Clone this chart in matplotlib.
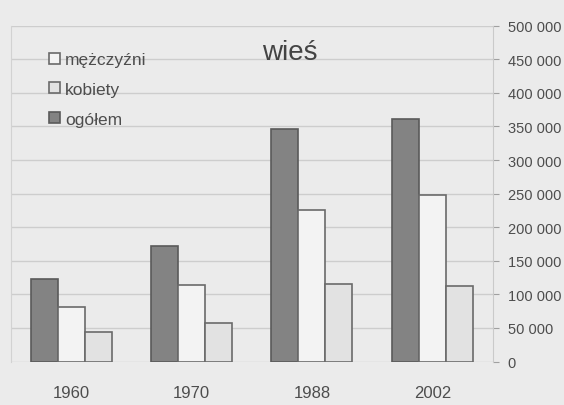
import matplotlib
matplotlib.use("Agg")
import matplotlib.pyplot as plt
import numpy as np
from matplotlib.ticker import FuncFormatter

plt.rcParams['font.family'] = ['Liberation Sans', 'DejaVu Sans']

years = ["1960", "1970", "1988", "2002"]
ogolem = [123000, 171500, 346000, 361000]
mezczyzni = [81000, 114000, 226000, 248000]
kobiety = [44000, 58000, 115000, 112000]
yticks = [0, 50000, 100000, 150000, 200000, 250000, 300000, 350000, 400000, 450000, 500000]
title = "wieś"

bg = "#ebebeb"
txt = "#4d4d4d"

fig = plt.figure(figsize=(5.64, 4.06), dpi=100, facecolor=bg)
ax = fig.add_axes([11/564, 1-362.5/406, (492.5-11)/564, (362.5-26.7)/406])
ax.set_facecolor(bg)

x = np.arange(len(years))
w = 0.224
b_tot = ax.bar(x - w, ogolem, w, color="#838383", edgecolor="#5a5a5a", linewidth=1.2, zorder=3)
b_men = ax.bar(x, mezczyzni, w, color="#f3f3f3", edgecolor="#6a6a6a", linewidth=1.2, zorder=3)
b_wom = ax.bar(x + w, kobiety, w, color="#e2e2e2", edgecolor="#6a6a6a", linewidth=1.2, zorder=3)

ax.set_xlim(-0.5, len(years) - 0.5)
ax.set_ylim(0, 500000)
ax.set_yticks(yticks)
ax.yaxis.tick_right()
ax.yaxis.set_major_formatter(FuncFormatter(lambda v, p: f"{int(v):,}".replace(",", " ")))
ax.tick_params(axis='y', length=4, direction='out', color="#a0a0a0", pad=7,
               labelsize=10.5, labelcolor=txt)
ax.set_xticks(x)
ax.set_xticklabels(years)
ax.tick_params(axis='x', length=0, pad=17, labelsize=12, labelcolor=txt)

ax.grid(axis='y', color="#cdcdcd", linewidth=1.0, zorder=0)
for s in ['top', 'bottom']:
    ax.spines[s].set_visible(False)
ax.spines['left'].set_color("#d2d2d2")
ax.spines['right'].set_color("#cacaca")

fig.text(290/564, 1-60/406, title, ha='center', va='baseline', fontsize=20, color="#444444")

leg = ax.legend([b_men, b_wom, b_tot], ["mężczyźni", "kobiety", "ogółem"],
                loc='upper left', bbox_to_anchor=(37/564, 1-41/406), bbox_transform=fig.transFigure,
                frameon=False, fontsize=12.5, handlelength=0.6, handleheight=0.6,
                handletextpad=0.3, labelspacing=0.85, borderpad=0.2, labelcolor=txt)

fig.savefig("out.png", dpi=100, facecolor=bg)
